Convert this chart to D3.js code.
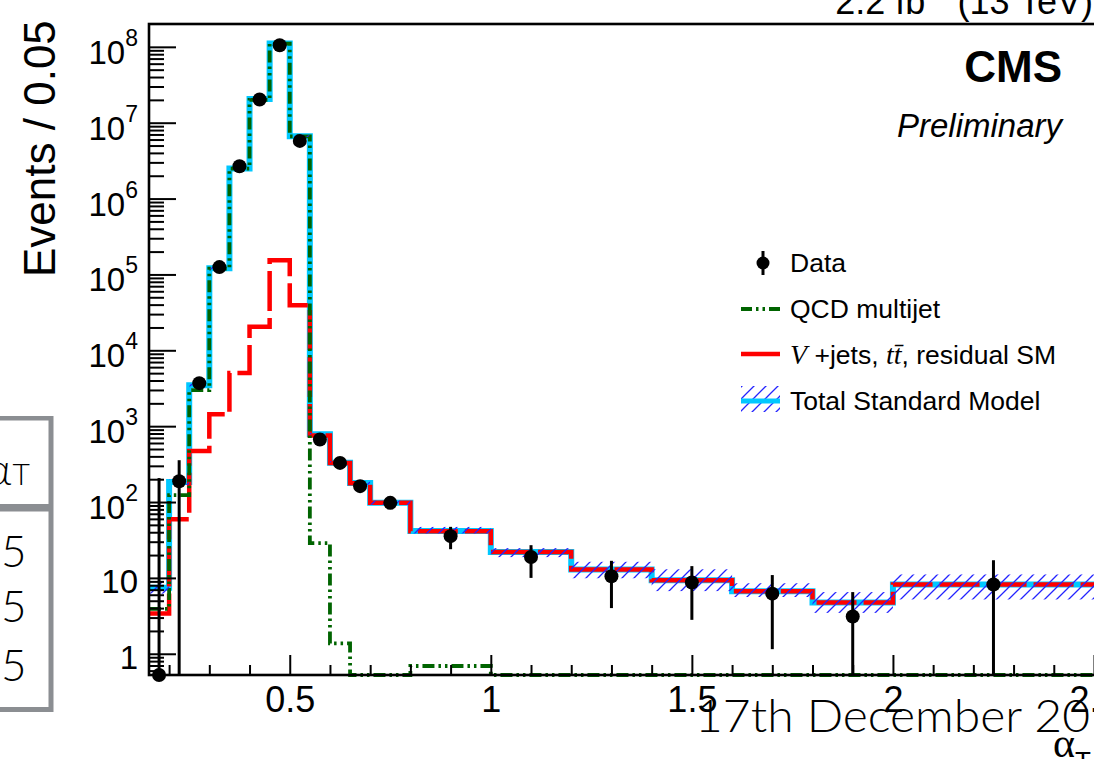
<!DOCTYPE html>
<html><head><meta charset="utf-8">
<script src="https://cdn.jsdelivr.net/npm/d3@7"></script>
<style>body{margin:0;background:#fff}svg{display:block}</style>
</head><body><svg id="c" width="1094" height="759"></svg>
<script>
// ---- data ----
const binEdges = [0.15,0.2,0.25,0.3,0.35,0.4,0.45,0.5,0.55,0.6,0.65,0.7,0.8,1.0,1.2,1.4,1.6,1.8,2.0,2.5];
const dataValues = [0,188,3690,1.25e5,2.67e6,2.02e7,1.05e8,5.76e6,668,328,162,97.5,35.5,18.9,10.5,8.7,6.2,3.1,8.2];
const dataErrUp = [207,168,61,354,1634,4500,10250,2400,26,18,13,10,11.6,8.1,6.3,5.6,4.7,3.4,8.9];
const dataErrDown = [0,188,61,354,1634,4500,10250,2400,26,18,13,10,11.6,8.9,6.5,5.9,5.05,3.1,8.2];
const qcdValues = [3.9,123,2980,1.19e5,2.48e6,2.0e7,1.1e8,6.6e6,28.7,1.37,0,0,0.69,0,0,0,0,0,0];
const ewkValues = [3.4,59.4,472,1440,5040,2.04e4,1.54e5,3.93e4,755,328,177,97.5,41.3,22.0,12.9,9.33,6.69,4.75,8.2];
const totalValues = [7.4,184,3470,1.21e5,2.49e6,2.05e7,1.11e8,6.64e6,784,330,178,98,41.5,22.0,12.9,9.33,6.69,4.75,8.2];
const totalUp = [8.8,200,3620,1.25e5,2.56e6,2.1e7,1.13e8,6.8e6,815,345,187,104,47,24.7,16.3,13.0,8.5,6.5,11.1];
const totalDown = [6.2,168,3330,1.17e5,2.42e6,2.0e7,1.09e8,6.5e6,755,316,169,92,38.6,18.8,9.9,6.7,5.6,3.46,5.2];
const xMajorTicks = [0.5,1,1.5,2,2.5];
const xTickLabels = ["0.5","1","1.5","2","2.5"];
const xMinorTicks = [0.2,0.3,0.4,0.6,0.7,0.8,0.9,1.1,1.2,1.3,1.4,1.6,1.7,1.8,1.9,2.1,2.2,2.3,2.4];
const yMajorTicks = [1,10,1e2,1e3,1e4,1e5,1e6,1e7,1e8];
const yTickBase = ["1","10","10","10","10","10","10","10","10"];
const yTickExp = ["","","2","3","4","5","6","7","8"];
const legendLabels = ["Data","QCD multijet","V +jets, tt, residual SM","Total Standard Model"];
const tableCells = ["5","5","5"];

// ---- setup ----
const svg = d3.select("#c");
const SANS = "'Liberation Sans', Arial, Helvetica, sans-serif";
const SERIF = "'Liberation Serif', 'Times New Roman', serif";
const LIGHT = "Lato, Roboto, 'Open Sans', sans-serif";
const yMin = 0.525, yMax = 2.0e8;
const x = d3.scaleLinear().domain([0.15, 2.5]).range([149, 1094]);
const y = d3.scaleLog().domain([yMin, yMax]).range([675, 24]);
const yc = v => y(Math.max(v, yMin));

const defs = svg.append("defs");
defs.append("pattern").attr("id","hatch").attr("patternUnits","userSpaceOnUse")
  .attr("width",12).attr("height",12)
  .append("path").attr("d","M-3,3 L3,-3 M0,12 L12,0 M9,15 L15,9")
  .attr("stroke","#2424ff").attr("stroke-width",1.3);
defs.append("clipPath").attr("id","plotclip").append("rect")
  .attr("x",149).attr("y",24).attr("width",960).attr("height",653);

const colCyan = "#00c8ff", colRed = "#ff0000", colGreen = "#006400";

// ---- histograms ----
function stepPoints(vals){
  const pts = [];
  vals.forEach((v,i)=>{ pts.push([binEdges[i], v]); pts.push([binEdges[i+1], v]); });
  return pts;
}
const line = d3.line().x(d=>x(d[0])).y(d=>yc(d[1]));
const plot = svg.append("g").attr("clip-path","url(#plotclip)");

plot.append("path").attr("d", line(stepPoints(totalValues)))
  .attr("fill","none").attr("stroke",colCyan).attr("stroke-width",6);
plot.append("path").attr("d", line(stepPoints(ewkValues)))
  .attr("fill","none").attr("stroke",colRed).attr("stroke-width",4.5)
  .attr("stroke-dasharray","40,7");
plot.append("path").attr("d", line(stepPoints(qcdValues)))
  .attr("fill","none").attr("stroke",colGreen).attr("stroke-width",3.8)
  .attr("stroke-dasharray","12,4,2.5,4,2.5,4");

// uncertainty band
plot.selectAll("rect.band").data(totalValues).enter().append("rect")
  .attr("class","band")
  .attr("x",(d,i)=>x(binEdges[i]))
  .attr("width",(d,i)=>x(binEdges[i+1])-x(binEdges[i]))
  .attr("y",(d,i)=>yc(totalUp[i]))
  .attr("height",(d,i)=>yc(totalDown[i])-yc(totalUp[i]))
  .attr("fill","url(#hatch)");

// ---- data points ----
const centers = binEdges.slice(0,-1).map((e,i)=>(e+binEdges[i+1])/2);
const pts = svg.append("g");
pts.selectAll("line").data(dataValues).enter().append("line")
  .attr("x1",(d,i)=>x(centers[i])).attr("x2",(d,i)=>x(centers[i]))
  .attr("y1",(d,i)=>yc(d+dataErrUp[i]))
  .attr("y2",(d,i)=>yc(d-dataErrDown[i]))
  .attr("stroke","#000").attr("stroke-width",3);
pts.selectAll("circle").data(dataValues).enter().append("circle")
  .attr("cx",(d,i)=>x(centers[i])).attr("cy",d=>yc(d)).attr("r",7).attr("fill","#000");

// ---- axes ----
const xAx = svg.append("g").attr("transform","translate(0,675)")
  .call(d3.axisBottom(x).tickValues(xMajorTicks).tickSize(-20).tickSizeOuter(0).tickPadding(11)
    .tickFormat((d,i)=>xTickLabels[i]));
xAx.select(".domain").remove();
xAx.selectAll("line").attr("stroke-width",2);
xAx.selectAll("text").attr("font-family",SANS).attr("font-size",36).attr("fill","#000");
const xAxm = svg.append("g").attr("transform","translate(0,675)")
  .call(d3.axisBottom(x).tickValues(xMinorTicks).tickSize(-10).tickSizeOuter(0).tickFormat(""));
xAxm.select(".domain").remove();
xAxm.selectAll("line").attr("stroke-width",2);

const yAx = svg.append("g").attr("transform","translate(149,0)")
  .call(d3.axisLeft(y).tickValues(yMajorTicks).tickSize(-27).tickSizeOuter(0).tickFormat(""));
yAx.select(".domain").remove();
yAx.selectAll("line").attr("stroke-width",2);
const yMinor = [];
for (let n=-1;n<=8;n++) for (let k=2;k<=9;k++){ const v=k*Math.pow(10,n); if(v>yMin && v<yMax) yMinor.push(v); }
const yAxm = svg.append("g").attr("transform","translate(149,0)")
  .call(d3.axisLeft(y).tickValues(yMinor).tickSize(-15).tickSizeOuter(0).tickFormat(""));
yAxm.select(".domain").remove();
yAxm.selectAll("line").attr("stroke-width",2);

const yl = svg.append("g").attr("font-family",SANS).attr("text-anchor","end");
yMajorTicks.forEach((v,i)=>{
  const t = yl.append("text").attr("x",138).attr("y", y(v) + (yTickExp[i] ? 17 : 15));
  t.append("tspan").attr("font-size",33).text(yTickBase[i]);
  if (yTickExp[i]) t.append("tspan").attr("font-size",23).attr("dy",-18).text(yTickExp[i]);
});

// frame
svg.append("rect").attr("x",149).attr("y",24).attr("width",980).attr("height",651)
  .attr("fill","none").attr("stroke","#000").attr("stroke-width",2.6);

// ---- titles ----
svg.append("text").attr("transform","translate(55,277) rotate(-90)")
  .attr("font-family",SANS).attr("font-size",44).text("Events / 0.05");
const lumi = svg.append("text").attr("x",1093).attr("y",14).attr("text-anchor","end")
  .attr("font-family",SANS).attr("font-size",36);
lumi.append("tspan").text("2.2 fb");
lumi.append("tspan").attr("font-size",25).attr("dy",-15).text("-1");
lumi.append("tspan").attr("dy",15).text(" (13 TeV)");
svg.append("text").attr("x",1062).attr("y",82).attr("text-anchor","end")
  .attr("font-family",SANS).attr("font-weight","bold").attr("font-size",44).text("CMS");
svg.append("text").attr("x",1062).attr("y",137).attr("text-anchor","end")
  .attr("font-family",SANS).attr("font-style","italic").attr("font-size",33).text("Preliminary");

// ---- legend ----
const lg = svg.append("g").attr("font-family",SANS).attr("font-size",26.5);
const rowY = [263, 309, 354, 400];
lg.append("line").attr("x1",763).attr("x2",763).attr("y1",251).attr("y2",275)
  .attr("stroke","#000").attr("stroke-width",3);
lg.append("circle").attr("cx",763).attr("cy",rowY[0]).attr("r",6.5);
lg.append("line").attr("x1",741).attr("x2",780).attr("y1",rowY[1]).attr("y2",rowY[1])
  .attr("stroke",colGreen).attr("stroke-width",4).attr("stroke-dasharray","11,4,2.5,4,2.5,4");
lg.append("line").attr("x1",741).attr("x2",780).attr("y1",rowY[2]).attr("y2",rowY[2])
  .attr("stroke",colRed).attr("stroke-width",4.5);
lg.append("rect").attr("x",741).attr("y",386).attr("width",39).attr("height",26).attr("fill","url(#hatch)");
lg.append("line").attr("x1",741).attr("x2",780).attr("y1",401).attr("y2",401)
  .attr("stroke",colCyan).attr("stroke-width",5);
lg.append("text").attr("x",790).attr("y",272).text(legendLabels[0]);
lg.append("text").attr("x",790).attr("y",318).text(legendLabels[1]);
const vt = lg.append("text").attr("x",790).attr("y",364);
vt.append("tspan").attr("font-family",SERIF).attr("font-style","italic").attr("font-size",28).text("V");
vt.append("tspan").text(" +jets, ");
vt.append("tspan").attr("font-family",SERIF).attr("font-style","italic").attr("font-size",28).text("t");
vt.append("tspan").attr("font-family",SERIF).attr("font-style","italic").attr("font-size",28).text("t\u0304");
vt.append("tspan").text(", residual SM");
lg.append("text").attr("x",790).attr("y",410).text(legendLabels[3]);

// ---- axis title (alpha_T) ----
const at = svg.append("text").attr("x",1053).attr("y",757).attr("font-family",SERIF);
at.append("tspan").attr("font-size",42).text("\u03b1");
at.append("tspan").attr("font-family",SANS).attr("font-size",26).attr("dy",13).text("T");

// ---- slide overlay: table fragment ----
const tb = svg.append("g");
const gray = "#8b8e92";
tb.append("rect").attr("x",-10).attr("y",416).attr("width",63).attr("height",4.5).attr("fill",gray);
tb.append("rect").attr("x",48.5).attr("y",416).attr("width",5).attr("height",296).attr("fill",gray);
tb.append("rect").attr("x",-10).attr("y",504).attr("width",63).attr("height",7.5).attr("fill",gray);
tb.append("rect").attr("x",-10).attr("y",707).attr("width",63).attr("height",5).attr("fill",gray);
const th = tb.append("text").attr("x",-14).attr("y",485).attr("font-family",LIGHT).attr("font-weight",300);
th.append("tspan").attr("font-size",44).text("\u03b1");
th.append("tspan").attr("font-size",30).attr("dx",1).text("T");
[567,622,681].forEach((yy,i)=>{
  tb.append("text").attr("x",1).attr("y",yy).attr("font-family",LIGHT).attr("font-weight",300)
    .attr("font-size",44).text(tableCells[i]);
});

// ---- slide overlay: date ----
svg.append("text").attr("x",695).attr("y",732).attr("font-family",LIGHT).attr("font-weight",300)
  .attr("font-size",45).attr("textLength",395).attr("lengthAdjust","spacingAndGlyphs")
  .text("17th December 20");
</script></body></html>
